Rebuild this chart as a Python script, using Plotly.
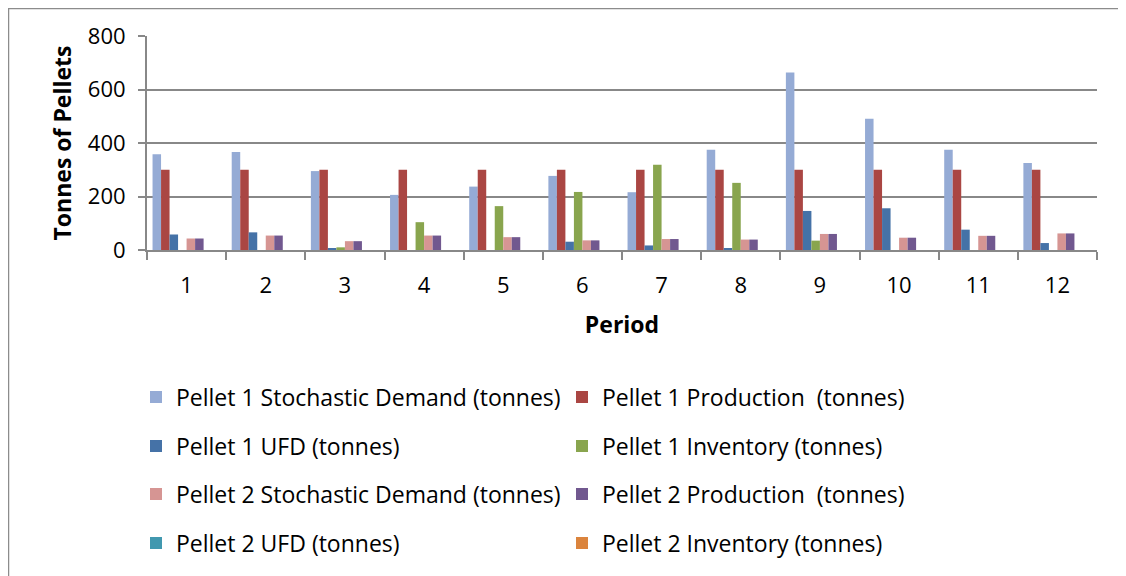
import plotly.graph_objects as go

periods = ["1", "2", "3", "4", "5", "6", "7", "8", "9", "10", "11", "12"]

p1_demand = [358, 366, 295, 206, 237, 277, 216, 375, 664, 491, 375, 325]
p1_production = [300, 300, 300, 300, 300, 300, 300, 300, 300, 300, 300, 300]
p1_ufd = [58, 66, 6, 0, 0, 31, 17, 6, 146, 156, 76, 26]
p1_inventory = [0, 0, 10, 104, 164, 217, 319, 251, 35, 0, 0, 0]
p2_demand = [43, 54, 33, 54, 48, 36, 41, 39, 60, 46, 53, 62]
p2_production = [43, 54, 33, 54, 48, 36, 41, 39, 60, 46, 53, 62]
p2_ufd = [0, 0, 0, 0, 0, 0, 0, 0, 0, 0, 0, 0]
p2_inventory = [0, 0, 0, 0, 0, 0, 0, 0, 0, 0, 0, 0]

series_names = [
    "Pellet 1 Stochastic Demand (tonnes)",
    "Pellet 1 Production  (tonnes)",
    "Pellet 1 UFD (tonnes)",
    "Pellet 1 Inventory (tonnes)",
    "Pellet 2 Stochastic Demand (tonnes)",
    "Pellet 2 Production  (tonnes)",
    "Pellet 2 UFD (tonnes)",
    "Pellet 2 Inventory (tonnes)",
]
series_values = [p1_demand, p1_production, p1_ufd, p1_inventory,
                 p2_demand, p2_production, p2_ufd, p2_inventory]
colors = ["#95ABD5", "#AA4643", "#4572A7", "#89A54E",
          "#D69593", "#71588F", "#4198AF", "#DB843D"]
legends = ["legend", "legend", "legend2", "legend2",
           "legend3", "legend3", "legend4", "legend4"]

FONT = "Open Sans"

fig = go.Figure()
for name, vals, col, lg in zip(series_names, series_values, colors, legends):
    fig.add_trace(go.Bar(
        x=periods, y=vals, name=name, marker_color=col,
        marker_line_width=0, legend=lg,
    ))

# page is offset by the 8px body margin; work in page coords minus 8
OFF = 8
W, H = 1126 - OFF, 576 - OFF
ml = 147 - OFF
mt = 36 - OFF
mr = W - (1097 - OFF)
mb = H - (250 - OFF)
pw, ph = W - ml - mr, H - mt - mb

def leg(row_y):
    return dict(
        orientation="h",
        x=(136 - OFF - ml) / pw, xanchor="left",
        y=(H - mb - (row_y - OFF)) / ph, yanchor="middle",
        entrywidth=381, entrywidthmode="pixels",
        font=dict(family=FONT, size=23, color="#000000"),
        bgcolor="rgba(0,0,0,0)", itemclick=False,
    )

fig.update_layout(
    width=W, height=H,
    margin=dict(l=ml, r=mr, t=mt, b=mb, autoexpand=False),
    paper_bgcolor="white", plot_bgcolor="white",
    barmode="group", bargap=0.14, bargroupgap=0,
    font=dict(family=FONT, size=20, color="#000000"),
    showlegend=True,
    legend=leg(397), legend2=leg(446), legend3=leg(494), legend4=leg(543),
    xaxis=dict(
        type="category", tickson="boundaries", ticks="outside", ticklen=8,
        tickwidth=2, tickcolor="#888888",
        showline=True, linecolor="#888888", linewidth=2,
        showgrid=False, ticklabelstandoff=15,
        tickfont=dict(family=FONT, size=22),
        title=dict(text="<b>Period</b>", font=dict(family=FONT, size=23), standoff=18),
    ),
    yaxis=dict(
        range=[0, 800], dtick=200, ticks="outside", ticklen=7,
        tickwidth=2, tickcolor="#888888",
        showline=True, linecolor="#888888", linewidth=2,
        showgrid=True, gridcolor="#888888", gridwidth=2,
        zeroline=False, ticklabelstandoff=8,
        tickfont=dict(family=FONT, size=22),
        title=dict(text="<b>Tonnes of Pellets</b>", font=dict(family=FONT, size=23), standoff=10),
    ),
    shapes=[dict(type="rect", xref="paper", yref="paper",
                 x0=(0.5 - ml) / pw, x1=(1117 - ml) / pw,
                 y0=(H - mb - (H + 20)) / ph, y1=(H - mb - 0.5) / ph,
                 line=dict(color="#8C8C8C", width=1.5), fillcolor="rgba(0,0,0,0)",
                 layer="below")],
)

fig.write_html("out.html")
